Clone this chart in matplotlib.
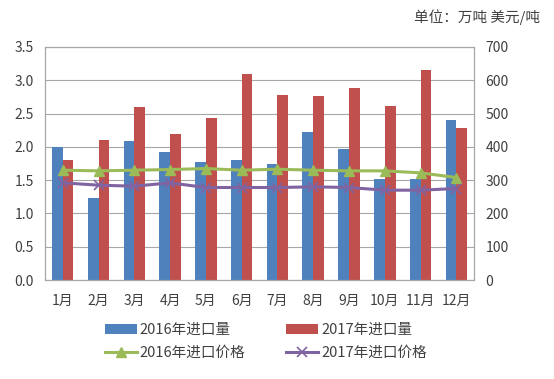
import matplotlib

matplotlib.use("Agg")
import matplotlib.pyplot as plt
import numpy as np

plt.rcParams["font.family"] = ["Noto Sans CJK SC", "DejaVu Sans"]

months = ["1月", "2月", "3月", "4月", "5月", "6月", "7月", "8月", "9月", "10月", "11月", "12月"]
volume_2016 = [2.00, 1.24, 2.09, 1.93, 1.78, 1.80, 1.74, 2.23, 1.97, 1.52, 1.52, 2.40]
volume_2017 = [1.80, 2.11, 2.60, 2.20, 2.43, 3.10, 2.78, 2.77, 2.88, 2.61, 3.15, 2.28]
price_2016 = [330, 328, 330, 332, 335, 330, 333, 330, 328, 328, 322, 308]
price_2017 = [292, 285, 282, 292, 278, 278, 278, 280, 278, 270, 270, 275]

BLUE = "#4F81BD"
RED = "#C0504D"
GREEN = "#9BBB59"
PURPLE = "#8064A2"
GRID = "#A6A6A6"
TEXT = "#404040"

fig = plt.figure(figsize=(5.54, 3.79), dpi=100)
ax = fig.add_axes([0.081, 0.261, 0.775, 0.615])
ax2 = ax.twinx()

x = np.arange(len(months))
w = 0.3
b1 = ax.bar(x - w / 2, volume_2016, width=w, color=BLUE, label="2016年进口量", zorder=2)
b2 = ax.bar(x + w / 2, volume_2017, width=w, color=RED, label="2017年进口量", zorder=2)

l1, = ax2.plot(x, price_2016, color=GREEN, lw=2.2, marker="^", ms=7, label="2016年进口价格")
l2, = ax2.plot(x, price_2017, color=PURPLE, lw=2.2, marker="x", ms=7, mew=1.2,
               label="2017年进口价格")

ax.set_xlim(-0.5, len(months) - 0.5)
ax.set_ylim(0, 3.5)
ax.set_yticks(np.arange(0, 3.51, 0.5))
ax.set_yticklabels([f"{v:.1f}" for v in np.arange(0, 3.51, 0.5)])
ax2.set_ylim(0, 700)
ax2.set_yticks(range(0, 701, 100))
ax.set_xticks(x)
ax.set_xticklabels(months)

ax.grid(axis="y", color=GRID, lw=0.8, zorder=0)
ax.set_axisbelow(True)
for a in (ax, ax2):
    for s in a.spines.values():
        s.set_color(GRID)
        s.set_linewidth(0.8)
    a.tick_params(length=0, labelsize=10, colors=TEXT)
ax.tick_params(axis="y", pad=8)
ax2.tick_params(axis="y", pad=8)
ax.tick_params(axis="x", pad=10)

fig.text(0.975, 0.955, "单位：万吨 美元/吨", ha="right", va="center", fontsize=10.5, color=TEXT)

handles = [b1, l1, b2, l2]
fig.legend(handles, [h.get_label() for h in handles],
           loc="lower center", bbox_to_anchor=(0.48, 0.015), ncol=2, frameon=False,
           fontsize=10.5, handlelength=2.2, handletextpad=0.2, columnspacing=2.8,
           labelspacing=0.65, labelcolor=TEXT)

fig.savefig("out.png")
